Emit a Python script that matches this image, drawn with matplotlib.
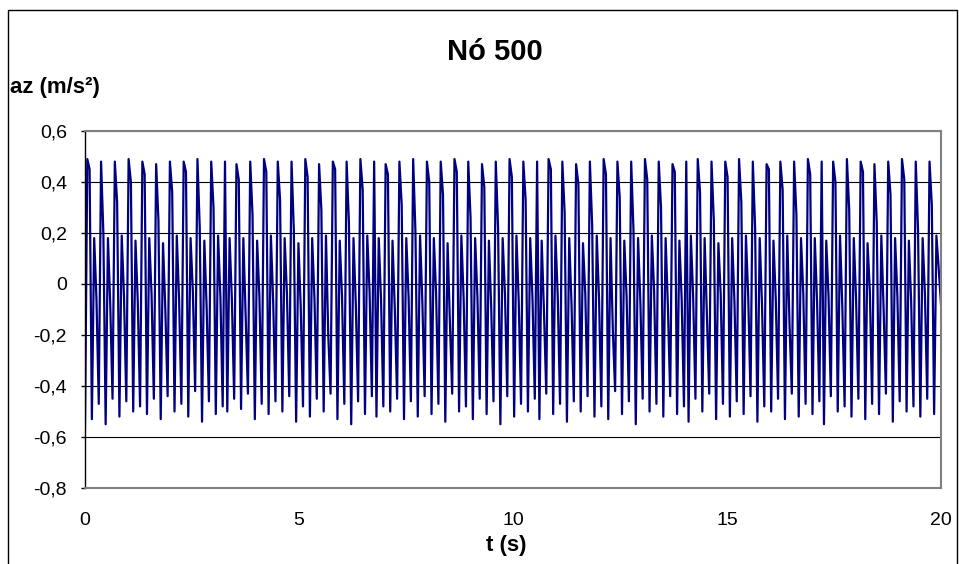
import matplotlib.pyplot as plt
import numpy as np
from matplotlib.patches import Rectangle
from matplotlib.ticker import FuncFormatter

plt.rcParams['font.family'] = ['Liberation Sans', 'DejaVu Sans']

az_start = [-0.56]
az_0_5 = [
    0.49, 0.45, -0.53, 0.18, -0.06, -0.47, 0.48, 0.20, -0.55, 0.18, -0.08, -0.45,
    0.48, 0.32, -0.52, 0.19, -0.05, -0.46, 0.49, 0.40, -0.50, 0.17, -0.07, -0.48,
    0.48, 0.43, -0.51, 0.18, -0.04, -0.45, 0.47, 0.25, -0.53, 0.16, -0.10, -0.44,
    0.48, 0.36, -0.50, 0.19, -0.06, -0.47, 0.48, 0.44, -0.52, 0.18, -0.03, -0.42,
    0.49, 0.22, -0.54, 0.17, -0.09, -0.46, 0.48, 0.30, -0.51, 0.19, -0.05, -0.48,
    0.48, -0.50, 0.18, -0.06, -0.45, 0.47, 0.41, -0.49, 0.18, -0.12, -0.43,
    0.48, 0.27, -0.53, 0.17, -0.05, -0.47, 0.49, 0.44, -0.51, 0.19, -0.07, -0.46,
    0.48, 0.33, -0.50, 0.18, -0.04, -0.44, 0.48, 0.21, -0.54, 0.16, -0.09, -0.48,
]
az_5_10 = [
    0.49, 0.42, -0.52, 0.18, -0.06, -0.45, 0.47, 0.29, -0.50, 0.19, -0.20, -0.43,
    0.48, 0.45, -0.53, 0.17, -0.05, -0.47, 0.48, 0.24, -0.55, 0.18, -0.08, -0.46,
    0.49, 0.37, -0.51, 0.19, -0.03, -0.44, 0.48, -0.52, 0.18, -0.06, -0.48,
    0.47, 0.43, -0.50, 0.17, -0.10, -0.45, 0.48, 0.31, -0.53, 0.18, -0.05, -0.46,
    0.49, 0.20, -0.52, 0.19, -0.07, -0.44, 0.48, 0.40, -0.51, 0.18, -0.04, -0.47,
    0.48, 0.35, -0.54, 0.16, -0.15, -0.43, 0.49, 0.44, -0.50, 0.19, -0.06, -0.48,
    0.48, 0.26, -0.53, 0.18, -0.05, -0.45, 0.47, 0.38, -0.51, 0.17, -0.09, -0.46,
    0.48, 0.22, -0.55, 0.18, -0.04, -0.44, 0.49, 0.42, -0.52, 0.19, -0.07, -0.47,
]
az_10_15 = [
    0.48, 0.33, -0.50, 0.18, -0.06, -0.45, 0.48, -0.53, 0.17, -0.11, -0.43,
    0.49, 0.45, -0.51, 0.19, -0.05, -0.47, 0.48, 0.28, -0.54, 0.18, -0.08, -0.46,
    0.47, 0.39, -0.50, 0.16, -0.04, -0.44, 0.48, 0.23, -0.52, 0.19, -0.06, -0.48,
    0.49, 0.43, -0.53, 0.18, -0.18, -0.42, 0.48, 0.34, -0.51, 0.17, -0.05, -0.46,
    0.48, 0.21, -0.55, 0.18, -0.07, -0.45, 0.49, 0.41, -0.50, 0.19, -0.03, -0.47,
    0.48, 0.30, -0.52, 0.18, -0.09, -0.44, 0.47, 0.44, -0.51, 0.17, -0.06, -0.48,
    0.48, -0.54, 0.19, -0.05, -0.45, 0.49, 0.36, -0.50, 0.18, -0.12, -0.43,
    0.48, 0.25, -0.53, 0.16, -0.04, -0.47, 0.48, 0.42, -0.52, 0.18, -0.07, -0.46,
]
az_15_20 = [
    0.49, 0.32, -0.51, 0.19, -0.05, -0.44, 0.48, 0.22, -0.54, 0.18, -0.08, -0.48,
    0.47, 0.45, -0.50, 0.17, -0.06, -0.45, 0.48, 0.37, -0.53, 0.19, -0.16, -0.43,
    0.48, 0.27, -0.52, 0.18, -0.04, -0.47, 0.49, 0.43, -0.51, 0.18, -0.07, -0.46,
    0.48, -0.55, 0.17, -0.05, -0.44, 0.48, 0.40, -0.50, 0.19, -0.09, -0.48,
    0.49, 0.29, -0.52, 0.18, -0.06, -0.45, 0.48, 0.44, -0.53, 0.16, -0.03, -0.47,
    0.47, 0.24, -0.51, 0.19, -0.10, -0.43, 0.48, 0.35, -0.54, 0.18, -0.05, -0.46,
    0.49, 0.41, -0.50, 0.17, -0.07, -0.48, 0.48, 0.21, -0.52, 0.18, -0.04, -0.45,
    0.48, 0.31, -0.51, 0.19, 0.06, -0.08,
]
x_ticks = [0, 5, 10, 15, 20]
y_ticks = [-0.8, -0.6, -0.4, -0.2, 0, 0.2, 0.4, 0.6]

az = np.array(az_start + az_0_5 + az_5_10 + az_10_15 + az_15_20)
t = np.linspace(0, 20, len(az))

fig = plt.figure(figsize=(9.59, 5.64), dpi=100)
W, H = 959, 564
ax = fig.add_axes([85 / W, 1 - 488 / H, (941 - 85) / W, (488 - 131) / H])

# outer chart border (Excel style)
fig.patches.append(Rectangle((8 / W, -0.05), (957 - 8) / W, 1 - 10 / H + 0.05,
                             transform=fig.transFigure, fill=False,
                             edgecolor='black', linewidth=1.0))

ax.plot(t, az, color='#000080', linewidth=1.6)

ax.set_xlim(0, 20)
ax.set_ylim(-0.8, 0.6)
ax.set_xticks(x_ticks)
ax.set_yticks(y_ticks)
ax.yaxis.set_major_formatter(FuncFormatter(
    lambda v, p: '0' if abs(v) < 1e-9 else f'{v:.1f}'.replace('.', ',')))
ax.grid(axis='y', color='black', linewidth=0.8)
ax.set_axisbelow(True)

for s in ['top', 'right', 'bottom']:
    ax.spines[s].set_color('#808080')
    ax.spines[s].set_linewidth(1.5)
ax.spines['left'].set_color('black')
ax.spines['left'].set_linewidth(1.0)

ax.tick_params(axis='x', length=0, pad=17, labelsize=14)
ax.tick_params(axis='y', length=3, width=1, pad=10, labelsize=14)

fig.text(495 / W, 1 - 52 / H, 'Nó 500', ha='center', va='center',
         fontsize=21, fontweight='bold')
fig.text(10 / W, 1 - 88 / H, 'az (m/s²)', ha='left', va='center',
         fontsize=16, fontweight='bold')
fig.text(506 / W, 1 - 545 / H, 't (s)', ha='center', va='center',
         fontsize=16, fontweight='bold')

fig.savefig('out.png', dpi=100)
